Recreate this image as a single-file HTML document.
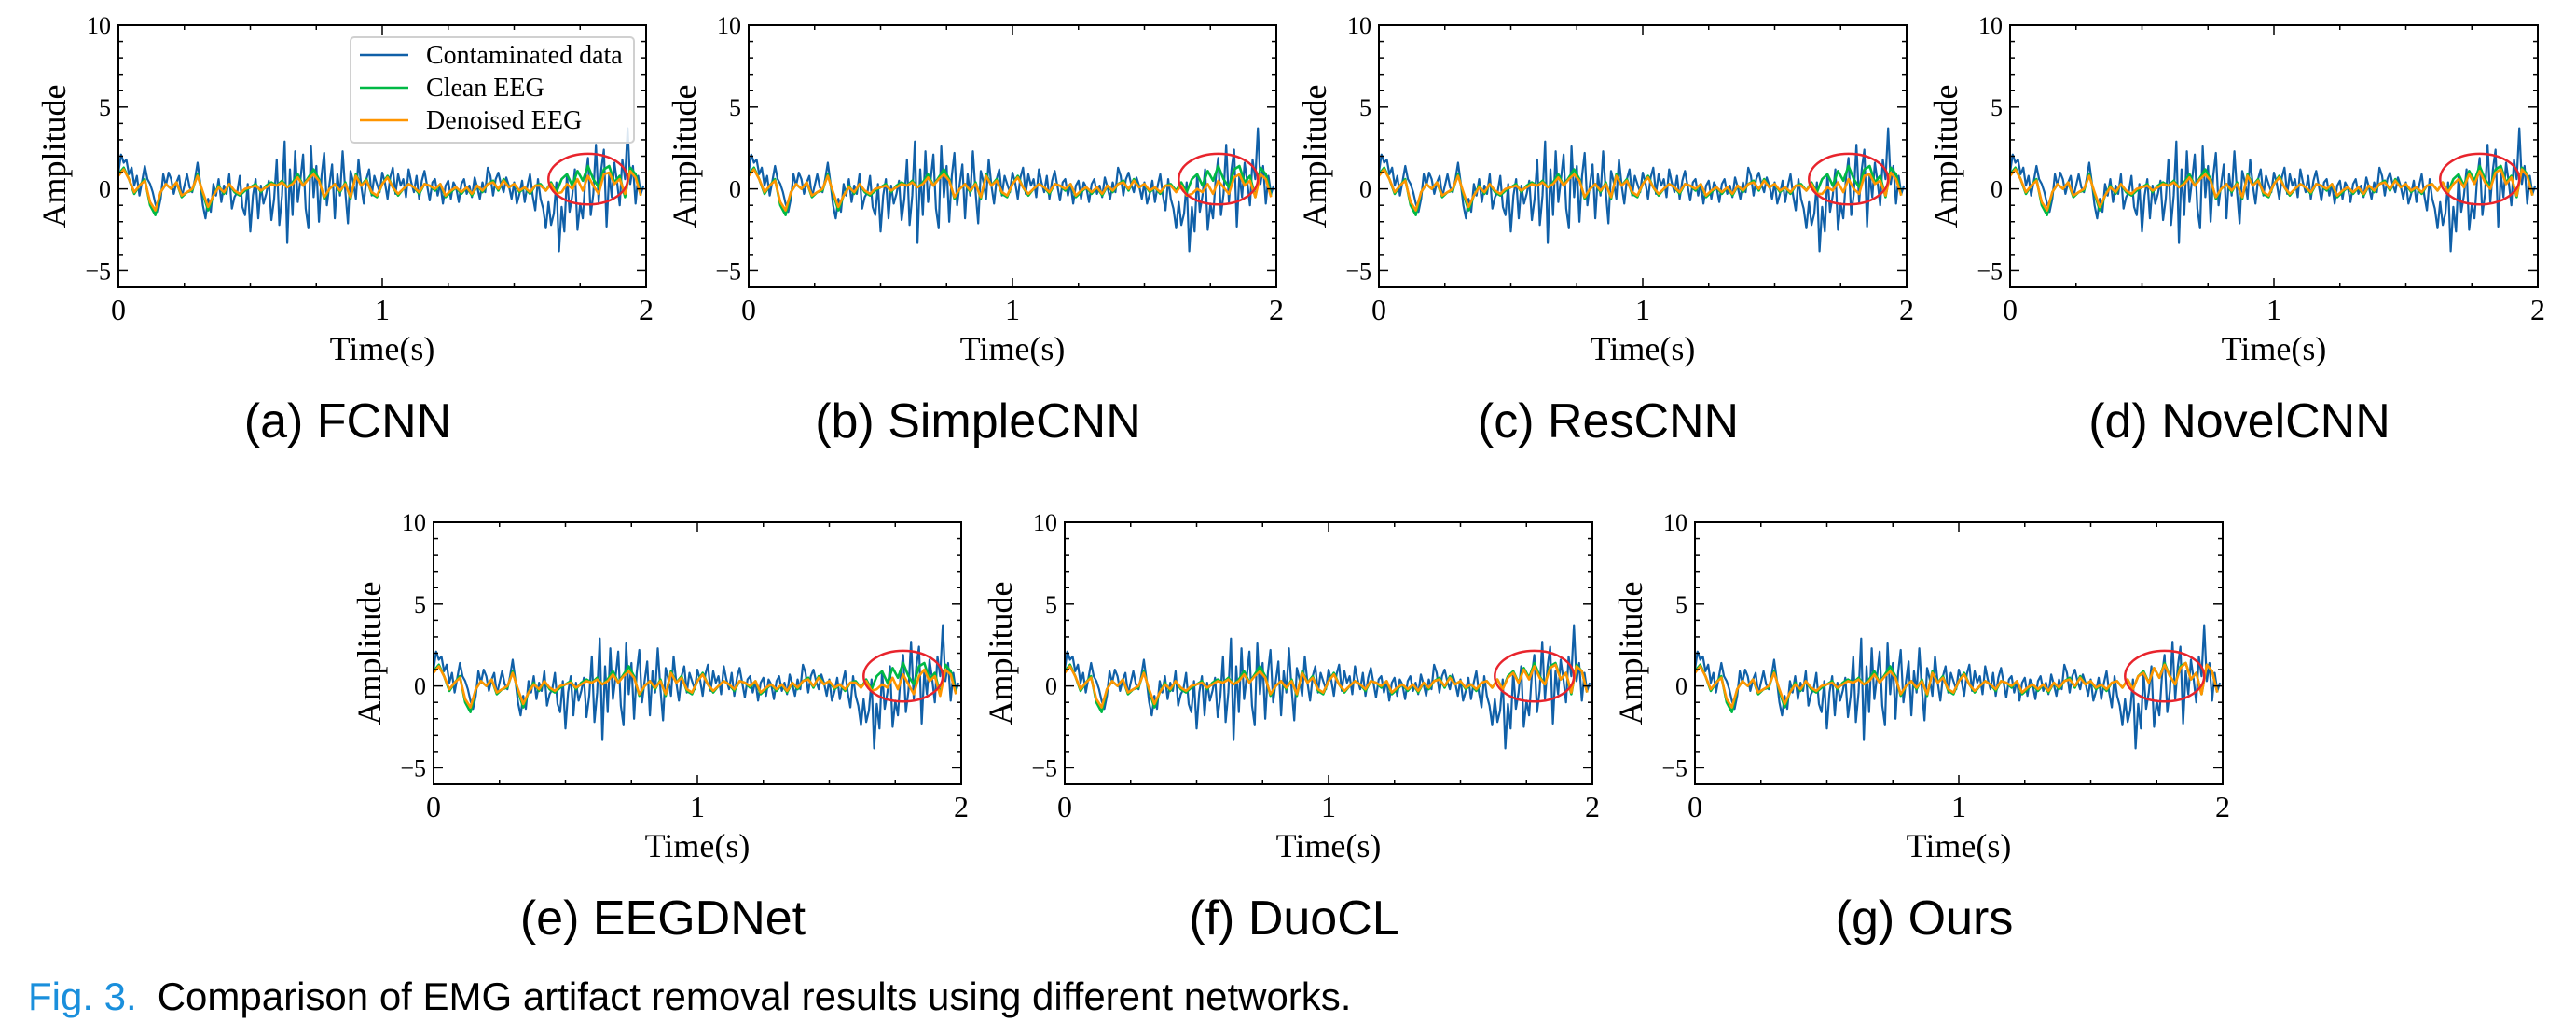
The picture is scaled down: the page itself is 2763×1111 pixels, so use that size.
<!DOCTYPE html>
<html><head><meta charset="utf-8"><style>
html,body{margin:0;padding:0;background:#fff;}
svg{display:block;}
</style></head><body>
<svg id="fig" width="2763" height="1111" viewBox="0 0 2763 1111" xmlns="http://www.w3.org/2000/svg"></svg>
<script>
// ---- data ----
const xTicks = [0, 1, 2];
const yTicks = [-5, 0, 5, 10];
const panelLabels = ["(a) FCNN","(b) SimpleCNN","(c) ResCNN","(d) NovelCNN","(e) EEGDNet","(f) DuoCL","(g) Ours"];
const legendLabels = ["Contaminated data","Clean EEG","Denoised EEG"];
// contaminated signal, dt = 0.01 s
const contaminated = [1.0,2.1,1.6,1.8,0.9,1.3,0.2,0.8,-0.4,0.5,1.4,0.6,0.3,-0.2,-0.9,-1.4,-0.6,0.9,0.2,1.0,
0.6,-0.3,0.4,0.8,-0.5,0.2,0.9,0.1,-0.2,0.6,1.6,0.4,-1.0,-1.8,-0.6,-1.4,0.3,-0.4,0.6,-0.8,
0.2,-0.3,0.9,-1.2,-0.5,-0.2,0.8,-1.1,-1.6,0.3,-2.6,-0.4,0.6,-1.8,0.2,-0.9,-0.3,0.5,-1.9,-0.6,
1.8,-2.2,-0.4,2.9,-3.3,1.2,-1.6,2.3,-0.8,0.6,2.1,-1.2,-2.4,2.6,-0.5,1.4,-2.0,0.8,2.2,-1.0,
0.3,1.5,-1.8,0.9,-0.4,2.3,-0.2,-2.1,1.1,0.4,-0.6,1.8,0.2,-0.9,0.6,1.2,-0.4,0.8,0.3,-0.2,
1.0,0.4,-0.6,0.7,1.3,-0.3,0.9,0.2,0.6,-0.5,1.2,0.4,-0.2,0.8,-0.6,0.5,1.1,0.2,-0.7,0.4,
0.6,-0.4,0.3,-0.9,0.2,0.5,-0.6,0.4,0.1,-0.8,0.3,0.6,-0.3,0.2,-0.5,0.7,0.1,-0.6,0.4,-0.2,
1.3,0.8,-0.4,0.6,1.0,0.3,-0.2,0.7,0.2,-0.6,0.4,-0.9,-0.3,0.5,-0.8,0.2,0.9,-0.4,-1.3,0.6,
-0.6,-1.2,-2.4,-0.8,-2.2,-1.5,0.4,-3.8,-1.1,-2.6,0.9,-1.4,-0.4,1.2,-2.5,-0.9,-1.8,0.6,1.9,-1.6,
-0.3,2.7,-0.8,1.2,2.4,-2.3,0.9,-0.5,1.6,0.4,-1.0,1.8,0.6,3.7,0.3,1.4,-0.9,0.8,-0.3,0.2];
// clean EEG, dt = 0.02 s
const clean = [0.9,1.3,0.6,-0.3,0.2,0.6,-1.0,-1.6,-0.2,0.3,
0.0,0.4,-0.5,-0.2,-0.1,0.9,-0.3,-1.3,-0.4,0.2,
-0.3,0.3,-0.2,-0.4,-0.1,0.1,0.3,-0.2,0.2,0.4,
0.2,0.5,0.1,0.4,0.9,0.2,0.7,1.2,0.6,-0.6,
0.0,0.3,-0.2,0.4,-0.6,0.9,0.2,0.6,-0.3,-0.5,
0.3,0.8,0.1,-0.4,0.0,0.3,0.1,-0.3,0.3,0.2,
-0.1,0.3,-0.5,-0.2,0.1,-0.3,0.1,-0.4,0.2,-0.2,
0.3,0.5,-0.1,0.6,0.1,0.3,-0.2,0.1,-0.3,0.2,
0.3,-0.1,0.4,-0.2,0.6,0.9,0.2,1.1,0.5,1.4,
0.6,0.1,1.2,1.4,0.4,0.8,-0.5,1.3,0.9,-0.4];
// denoised EEG first 1.6 s (shared), dt = 0.02 s
const denoisedHead = [0.8,1.2,0.6,-0.2,0.2,0.5,-0.8,-1.3,-0.2,0.3,
0.0,0.4,-0.4,-0.2,0.0,0.8,-0.2,-1.1,-0.4,0.1,
-0.2,0.3,-0.1,-0.3,0.0,0.1,0.2,-0.1,0.1,0.3,
0.2,0.4,0.1,0.3,0.7,0.2,0.6,0.9,0.5,-0.5,
0.0,0.3,-0.1,0.3,-0.5,0.8,0.2,0.5,-0.2,-0.4,
0.3,0.7,0.1,-0.3,0.0,0.3,0.1,-0.2,0.3,0.2,
0.0,0.3,-0.4,-0.1,0.1,-0.2,0.1,-0.3,0.2,-0.1,
0.3,0.4,0.0,0.5,0.1,0.3,-0.1,0.1,-0.2,0.2];
// denoised EEG last 0.4 s per network
const tailA = [0.2,-0.1,0.3,-0.3,-0.2,0.3,0.0,0.6,-0.1,0.8,0.2,-0.3,0.9,1.0,0.3,0.6,-0.3,1.1,0.7,-0.4];
const tailB = [0.2,-0.2,0.2,-0.4,-0.3,0.0,-0.2,0.3,-0.3,0.5,0.1,-0.3,0.7,0.9,0.2,0.5,-0.5,0.9,0.6,-0.5];
const tailC = [0.2,-0.1,0.3,-0.3,-0.3,0.1,-0.1,0.4,-0.2,0.6,0.0,-0.3,0.8,0.9,0.3,0.5,-0.4,1.0,0.6,-0.4];
const tailD = [0.3,-0.1,0.4,-0.2,0.3,0.6,0.1,0.9,0.3,1.1,0.4,0.0,1.0,1.2,0.3,0.7,-0.4,1.2,0.8,-0.4];
const tailE = [0.2,-0.1,0.3,-0.3,-0.2,0.1,-0.1,0.5,-0.2,0.7,0.1,-0.5,0.6,1.0,0.3,0.6,-0.6,1.0,0.7,-0.5];
const tailF = [0.3,-0.1,0.4,-0.2,0.5,0.8,0.2,1.0,0.4,1.2,0.5,0.1,1.1,1.3,0.4,0.8,-0.4,1.2,0.9,-0.4];
const tailG = [0.3,-0.1,0.4,-0.2,0.6,0.8,0.2,1.1,0.5,1.3,0.6,0.1,1.1,1.4,0.4,0.8,-0.5,1.3,0.9,-0.4];
const tails = [tailA,tailB,tailC,tailD,tailE,tailF,tailG];
const ellipseCenter = [1.78, 0.6];
const ellipseRadii = [0.15, 1.55];

// ---- layout ----
const NS = "http://www.w3.org/2000/svg";
const svg = document.getElementById('fig');
const boxes = [[127,27],[803,27],[1479,27],[2156,27],[465,560],[1142,560],[1818,560]];
const BW = 566, BH = 281;
const C_BLUE="#1060a8", C_GREEN="#00b945", C_ORANGE="#ff9500", C_RED="#e8242c";

function el(tag, attrs, parent){
  const e = document.createElementNS(NS, tag);
  for (const k in attrs) e.setAttribute(k, attrs[k]);
  (parent||svg).appendChild(e);
  return e;
}
function txt(s, attrs, parent){ const t = el('text', attrs, parent); t.textContent = s; return t; }

boxes.forEach((b, i) => {
  const [X0, Y0] = b;
  const sx = t => X0 + t / 2 * BW;
  const sy = v => Y0 + (10 - v) / 16 * BH;
  const g = el('g', {});
  
  
  const cid = 'clip' + i;
  const cp = el('clipPath', {id: cid}, g);
  el('rect', {x: X0, y: Y0, width: BW, height: BH}, cp);
  const plot = el('g', {'clip-path': 'url(#' + cid + ')'}, g);

  function line(arr, dt, t0, color, w, name){
    const pts = arr.map((v, k) => sx(t0 + k * dt).toFixed(1) + ',' + sy(v).toFixed(1)).join(' ');
    const p = el('polyline', {points: pts, fill: 'none', stroke: color, 'stroke-width': w, 'stroke-linejoin': 'round'}, plot);
    
    
  }
  line(contaminated, 0.01, 0, C_BLUE, 2.2, 'contaminated-line');
  line(clean, 0.02, 0, C_GREEN, 2.6, 'clean-eeg-line');
  line(denoisedHead.concat(tails[i]), 0.02, 0, C_ORANGE, 2.6, 'denoised-eeg-line');

  const ell = el('ellipse', {cx: sx(ellipseCenter[0]), cy: sy(ellipseCenter[1]),
    rx: sx(ellipseRadii[0]) - X0, ry: (sy(0) - sy(ellipseRadii[1])), fill: 'none', stroke: C_RED, 'stroke-width': 2.5}, g);
  
  

  const frame = el('rect', {x: X0, y: Y0, width: BW, height: BH, fill: 'none', stroke: '#000', 'stroke-width': 2}, g);
  
  

  for (let k = 0; k <= 8; k++) {
    const t = k * 0.25, x = sx(t), L = (k % 4 === 0) ? 10 : 5;
    el('line', {x1: x, x2: x, y1: Y0 + BH, y2: Y0 + BH - L, stroke: '#000', 'stroke-width': 1.5}, g);
    el('line', {x1: x, x2: x, y1: Y0, y2: Y0 + L, stroke: '#000', 'stroke-width': 1.5}, g);
  }
  for (let v = -6; v <= 10; v++) {
    const y = sy(v), L = (v % 5 === 0) ? 10 : 5;
    el('line', {x1: X0, x2: X0 + L, y1: y, y2: y, stroke: '#000', 'stroke-width': 1.5}, g);
    el('line', {x1: X0 + BW, x2: X0 + BW - L, y1: y, y2: y, stroke: '#000', 'stroke-width': 1.5}, g);
  }
  xTicks.forEach(t => {
    const lb = txt(String(t), {x: sx(t), y: Y0 + BH + 35, 'font-family': 'Liberation Serif, serif', 'font-size': 32, 'text-anchor': 'middle'}, g);
    
    
  });
  yTicks.forEach(v => {
    const lb = txt(v < 0 ? '\u2212' + Math.abs(v) : String(v), {x: X0 - 8, y: sy(v) + 9, 'font-family': 'Liberation Serif, serif', 'font-size': 26, 'text-anchor': 'end'}, g);
    
    
  });
  const xt = txt('Time(s)', {x: X0 + BW / 2, y: Y0 + BH + 78, 'font-family': 'Liberation Serif, serif', 'font-size': 36, 'text-anchor': 'middle'}, g);
  
  
  const yt = txt('Amplitude', {x: 0, y: 0, transform: 'translate(' + (X0 - 57) + ',' + (Y0 + BH / 2) + ') rotate(-90)', 'font-family': 'Liberation Serif, serif', 'font-size': 36, 'text-anchor': 'middle'}, g);
  
  
  const cap = txt(panelLabels[i], {x: X0 + BW / 2 - 37, y: Y0 + BH + 161, 'font-family': 'Liberation Sans, sans-serif', 'font-size': 52, 'text-anchor': 'middle'}, g);
  
  

  if (i === 0) {
    const lg = el('g', {}, g);
    
    
    el('rect', {x: 376, y: 40, width: 304, height: 113, rx: 4, fill: '#fff', 'fill-opacity': 0.85, stroke: '#d0d0d0', 'stroke-width': 2}, lg);
    const cols = [C_BLUE, C_GREEN, C_ORANGE];
    legendLabels.forEach((s, k) => {
      const yy = 59 + k * 35;
      const ent = el('g', {}, lg);
      
      
      el('line', {x1: 386, x2: 438, y1: yy, y2: yy, stroke: cols[k], 'stroke-width': 2.6}, ent);
      txt(s, {x: 457, y: yy + 9, 'font-family': 'Liberation Serif, serif', 'font-size': 28}, ent);
    });
  }
});

const fc = el('text', {x: 30, y: 1083, 'font-family': 'Liberation Sans, sans-serif', 'font-size': 42});


const s1 = el('tspan', {fill: '#1a8fdc'}, fc); s1.textContent = 'Fig. 3.';
const s2 = el('tspan', {dx: 22, fill: '#000'}, fc); s2.textContent = 'Comparison of EMG artifact removal results using different networks.';
</script>
</body></html>
